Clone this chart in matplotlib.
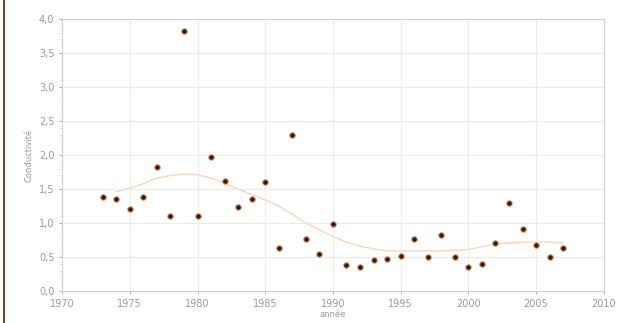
import matplotlib
matplotlib.use('Agg')
import matplotlib.pyplot as plt
from matplotlib.lines import Line2D
from matplotlib.ticker import MultipleLocator, FuncFormatter

# observed values, one per year
years = list(range(1973, 2008))
values = [1.39, 1.36, 1.21, 1.38, 1.83, 1.11, 3.82, 1.11, 1.97, 1.62,
          1.24, 1.35, 1.61, 0.64, 2.29, 0.76, 0.54, 0.99, 0.39, 0.36,
          0.45, 0.47, 0.51, 0.76, 0.50, 0.83, 0.50, 0.35, 0.40, 0.71,
          1.29, 0.91, 0.67, 0.50, 0.63]

# smooth trend curve
trend_years = list(range(1974, 2008))
trend = [1.46, 1.51, 1.58, 1.66, 1.70, 1.72, 1.71, 1.66, 1.58, 1.50,
         1.42, 1.34, 1.25, 1.13, 1.00, 0.90, 0.80, 0.72, 0.66, 0.62,
         0.59, 0.59, 0.59, 0.59, 0.59, 0.60, 0.61, 0.65, 0.69, 0.71,
         0.72, 0.72, 0.72, 0.71]

grey = '#999999'

fig = plt.figure(figsize=(6.27, 3.23), dpi=100)
ax = fig.add_axes([0.099, 0.099, 0.864, 0.842])

ax.plot(trend_years, trend, color='#f9d6bb', lw=1.0, zorder=2)
ax.plot(years, values, 'o', ms=4, mfc='#3d1a10', mec='#e49a6a', mew=0.7, zorder=3)

ax.set_xlim(1970, 2010)
ax.set_ylim(0, 4)
ax.xaxis.set_major_locator(MultipleLocator(5))
ax.yaxis.set_major_locator(MultipleLocator(0.5))
ax.yaxis.set_minor_locator(MultipleLocator(0.1))
ax.yaxis.set_major_formatter(FuncFormatter(lambda v, p: ('%.1f' % v).replace('.', ',')))

ax.grid(True, color='#ebebeb', lw=0.8)
ax.set_axisbelow(True)
for s in ax.spines.values():
    s.set_color('#d0d0d0')
ax.tick_params(colors=grey, labelsize=7, length=2, width=0.6)
ax.tick_params(which='minor', length=1.5, color='#d8d8d8')
for lab in ax.get_xticklabels() + ax.get_yticklabels():
    lab.set_color(grey)

ax.set_xlabel('année', fontsize=6, color=grey, labelpad=1)
ax.set_ylabel('Conductivité', fontsize=6, color=grey, labelpad=4)

fig.add_artist(Line2D([4 / 627, 4 / 627], [0, 1], color='#6b4a33', lw=1.5))

fig.savefig('out.png', dpi=100)
